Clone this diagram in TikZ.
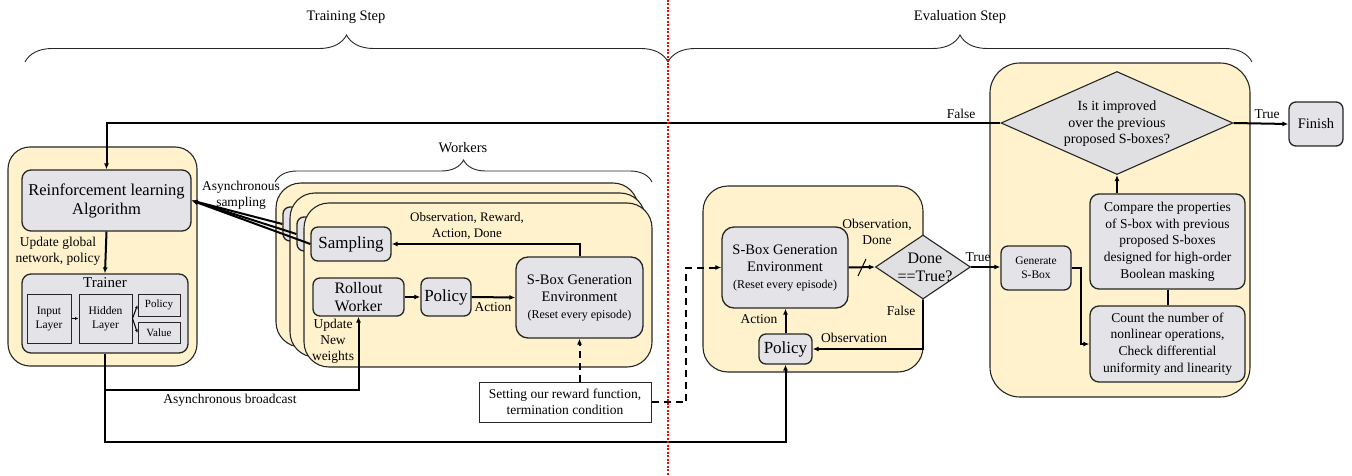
\documentclass[tikz,border=0pt]{standalone}
\usepackage{fontspec}
\setmainfont{LiberationSerif}[Extension=.ttf, UprightFont=*-Regular, BoldFont=*-Bold, ItalicFont=*-Italic, BoldItalicFont=*-BoldItalic]
\usetikzlibrary{shapes.geometric,arrows.meta,decorations.pathreplacing}
\definecolor{panelY}{HTML}{FFF2CC}
\definecolor{boxG}{HTML}{E4E4E8}
\definecolor{diaG}{HTML}{E0E0E2}
\definecolor{edgeC}{HTML}{262626}
\newcommand{\fsz}[2]{\fontsize{#1}{#2}\selectfont}
\tikzset{
  panel/.style={draw=edgeC, fill=panelY, line width=1.1pt, rounded corners=22pt, inner sep=0pt},
  gbox/.style={draw=edgeC, fill=boxG, line width=1.3pt, rounded corners=7pt, align=center, inner sep=0pt},
  sbox/.style={draw=edgeC, fill=boxG, line width=1pt, align=center, inner sep=0pt},
  dia/.style={diamond, draw=edgeC, fill=diaG, line width=1.1pt, inner sep=0pt},
  conn/.style={line width=2pt, -{Latex[length=6pt,width=5pt]}},
  plain/.style={line width=2pt},
  thinarr/.style={line width=1pt, -{Latex[length=3.5pt,width=3pt]}},
  lbl/.style={align=center, inner sep=0pt, font=\fsz{13.5}{16}},
  bracestyle/.style={draw=edgeC, line width=0.9pt, decorate},
}
\begin{document}
\begin{tikzpicture}[x=1pt,y=-1pt]
\useasboundingbox (0,0) rectangle (1352,476);

% ---- braces and step titles
\draw[bracestyle, decoration={brace, amplitude=27pt}] (25,62) coordinate (tb1) -- (668,62) coordinate (tb2);
\draw[bracestyle, decoration={brace, amplitude=27pt}] (668,62) coordinate (eb1) -- (1252,62) coordinate (eb2);
\node[lbl, font=\fsz{14.5}{17}] (ttrain) at (346,17) {Training Step};
\node[lbl, font=\fsz{14.5}{17}] (teval) at (960,17) {Evaluation Step};

% ---- left training panel
\node[panel, minimum width=189pt, minimum height=219pt] (lp) at (102.5,256.5) {};
\node[gbox, rounded corners=9pt, minimum width=169pt, minimum height=61pt, font=\fsz{16.5}{19}] (rl) at (106.5,200.5) {Reinforcement learning\\Algorithm};
\node[gbox, rounded corners=9pt, minimum width=166pt, minimum height=79pt] (tr) at (105,313.5) {};
\node[lbl, font=\fsz{15}{17}] (trt) at (105,283) {Trainer};
\node[sbox, minimum width=44pt, minimum height=49pt, font=\fsz{11.5}{14}] (inl) at (49,318.5) {Input\\Layer};
\node[sbox, minimum width=53pt, minimum height=49pt, font=\fsz{11.5}{14}] (hid) at (105.5,318.5) {Hidden\\Layer};
\node[sbox, minimum width=42pt, minimum height=22pt, font=\fsz{11}{13}] (pol) at (159,305) {Policy};
\node[sbox, minimum width=42pt, minimum height=21pt, font=\fsz{11}{13}] (val) at (159,333) {Value};
\draw[thinarr] (inl.east) -- (hid.west);
\draw[thinarr] (hid.east) -- (pol.west);
\draw[thinarr] (hid.east) -- (val.west);
\node[lbl] (lupd) at (58,251) {Update global\\network, policy};

% ---- workers
\draw[bracestyle, decoration={brace, amplitude=22pt}] (275,182) coordinate (wb1) -- (652,182) coordinate (wb2);
\node[lbl, font=\fsz{14.5}{17}] (twork) at (463,148) {Workers};
\node[panel, rounded corners=25pt, minimum width=362pt, minimum height=164pt] (wb) at (457,265) {};
\node[gbox, minimum width=80pt, minimum height=34pt] (sb) at (323,224) {};
\node[panel, rounded corners=25pt, minimum width=355pt, minimum height=164pt] (wm) at (467.5,275) {};
\node[gbox, minimum width=80pt, minimum height=34pt] (sm) at (337,234) {};
\node[panel, rounded corners=25pt, minimum width=348pt, minimum height=164pt] (wf) at (478,285) {};
\node[gbox, minimum width=80pt, minimum height=34pt, font=\fsz{17}{20}] (sf) at (351,244) {Sampling};
\node[gbox, minimum width=91pt, minimum height=38pt, font=\fsz{16}{17.5}] (ro) at (358.5,297) {Rollout\\Worker};
\node[gbox, minimum width=50pt, minimum height=38pt, font=\fsz{17}{20}] (pw) at (446,297) {Policy};
\node[gbox, rounded corners=12pt, minimum width=127pt, minimum height=81pt, font=\fsz{14.5}{17}] (ew) at (579.5,297.5) {S-Box Generation\\Environment\\\fsz{12}{17}(Reset every episode)};
\node[draw=edgeC, fill=white, line width=1pt, minimum width=172pt, minimum height=40pt, align=center, inner sep=0pt, font=\fsz{13.5}{16}] (set) at (565,402) {Setting our reward function,\\termination condition};

\draw[conn] (ro.east) -- (pw.west);
\draw[conn] (pw.east) -- (ew.west);
\node[lbl] (lact1) at (493,307) {Action};
\draw[conn] (ew.north) |- (sf.east);
\node[lbl, font=\fsz{13}{16}] (lobs1) at (467,226) {Observation, Reward,\\Action, Done};
\node[lbl, font=\fsz{13.5}{16}] (lupdw) at (333,341) {Update\\New\\weights};
\node[lbl] (lasyn) at (241,195) {Asynchronous\\sampling};

% ---- evaluation middle panel
\node[panel, rounded corners=25pt, minimum width=220pt, minimum height=186pt] (ep) at (813,279) {};
\node[gbox, rounded corners=12pt, minimum width=126pt, minimum height=81pt, font=\fsz{14.5}{17}] (ee) at (785,267.5) {S-Box Generation\\Environment\\\fsz{12}{17}(Reset every episode)};
\node[dia, minimum width=95pt, minimum height=64pt] (done) at (923,267) {};
\node[lbl, font=\fsz{16}{18}] (donet) at (925,267) {Done\\==True?};
\node[gbox, minimum width=53pt, minimum height=30pt, font=\fsz{17}{20}] (pe) at (785.5,349) {Policy};

% ---- right evaluation panel
\node[panel, rounded corners=30pt, minimum width=260pt, minimum height=334pt] (rp) at (1120,230) {};
\node[dia, minimum width=232pt, minimum height=103pt] (bd) at (1117,123) {};
\node[lbl, font=\fsz{14}{16.5}] (bdt) at (1117,124) {Is it improved\\over the previous\\proposed S-boxes?};
\node[gbox, minimum width=70pt, minimum height=44pt, font=\fsz{11.5}{14}] (gs) at (1036,268) {Generate\\S-Box};
\node[gbox, rounded corners=9pt, minimum width=155pt, minimum height=95pt, font=\fsz{13.5}{16.7}] (cmp) at (1167.5,241.5) {Compare the properties\\of S-box with previous\\proposed S-boxes\\designed for high-order\\Boolean masking};
\node[gbox, rounded corners=9pt, minimum width=155pt, minimum height=76pt, font=\fsz{13.5}{16.7}] (cnt) at (1167.5,344) {Count the number of\\nonlinear operations,\\Check differential\\uniformity and linearity};
\node[gbox, minimum width=54pt, minimum height=44pt, font=\fsz{14.5}{17}] (fin) at (1316,124) {Finish};

% ---- connectors
\draw[conn] (bd.west) -| (rl.north);
\node[lbl] (lfalse1) at (961,114) {False};
\draw[conn] (rl.south) -- (tr.north);
\coordinate (by) at (0,390);
\draw[conn] (tr.south) -- ++(0,88) -| (pe.south);
\draw[conn] (tr.south |- by) -| (ro.south);
\node[lbl] (lbroad) at (230,400) {Asynchronous broadcast};
\draw[conn] (sb.west) -- (rl.east);
\draw[conn] (sm.west) -- (rl.east);
\draw[conn] (sf.west) -- (rl.east);

\draw[conn, dash pattern=on 7pt off 5pt] (ew.south |- set.north) -- (ew.south);
\coordinate (dk) at (686,402);
\draw[conn, dash pattern=on 7pt off 5pt] (set.east) -- (dk) |- (ee.west);

\draw[conn] (ee.east) -- (done.west);
\draw[line width=1pt] (858,276) -- (866,259);
\node[lbl] (lobs2) at (877,232) {Observation,\\Done};
\draw[conn] (done.east) -- (done.east -| gs.west);
\node[lbl] (ltrue1) at (978,257) {True};
\draw[conn] (done.south) |- (pe.east);
\node[lbl] (lfalse2) at (901,311) {False};
\node[lbl] (lobs3) at (854,338) {Observation};
\draw[conn] (pe.north) -- (pe.north |- ee.south);
\node[lbl] (lact2) at (759,319) {Action};

\draw[conn] (gs.east) -- ++(9,0) |- (cnt.west);
\draw[plain] (cmp.south) -- (cnt.north);
\draw[conn] (bd.south |- cmp.north) -- (bd.south);
\draw[conn] (bd.east) -- (fin.west);
\node[lbl] (ltrue2) at (1267,114) {True};

% ---- separator
\draw[red, dash pattern=on 2pt off 1.5pt, line width=1.6pt] (668,0) -- (668,476);
\end{tikzpicture}
\end{document}
